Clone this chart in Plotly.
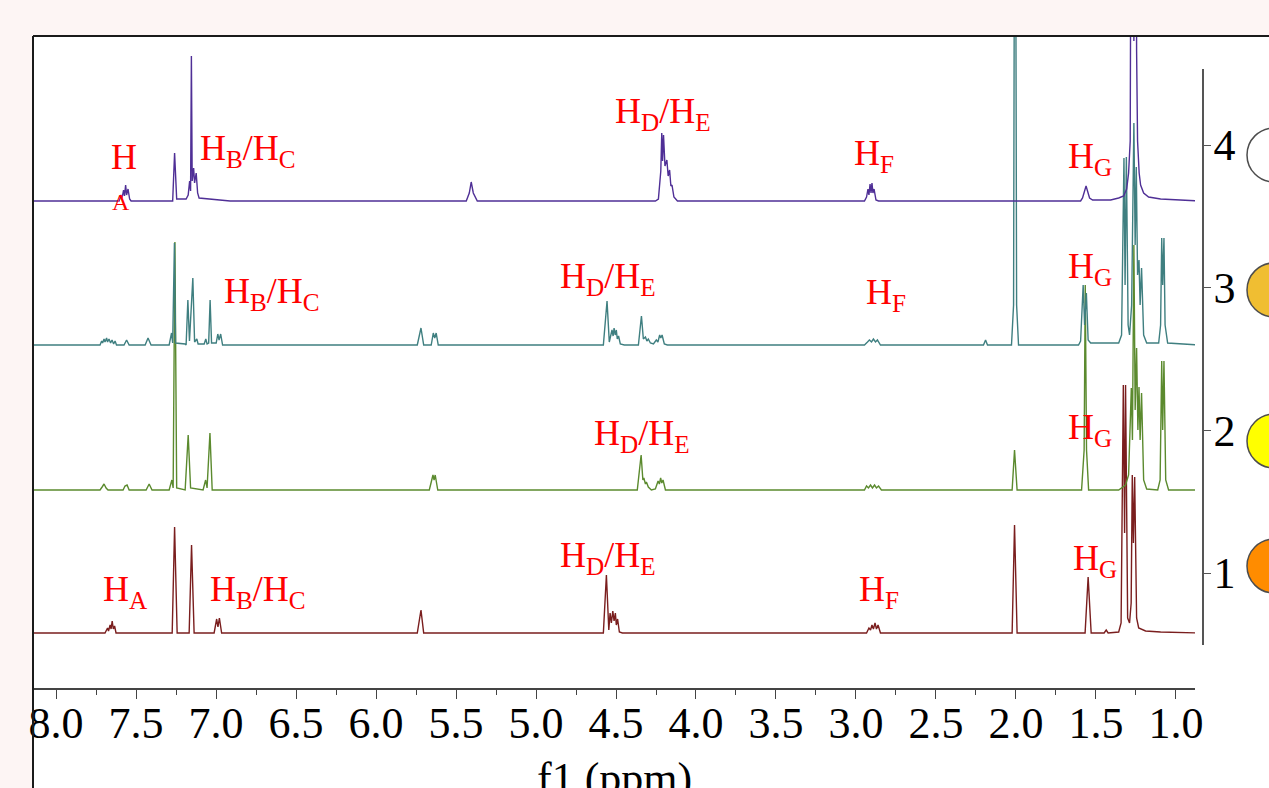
import plotly.graph_objects as go

# ---------------- data ----------------
# each spectrum: (chemical shift ppm, intensity a.u.) vertices
purple_points = [
    (8.20, 0), (7.606, 0), (7.594, 6), (7.587, 3), (7.578, 11), (7.572, 5), (7.565, 16), (7.559, 6),
    (7.550, 12), (7.540, 2), (7.531, 0), (7.271, 0), (7.259, 48), (7.246, 2), (7.187, 2), (7.174, 6),
    (7.165, 20), (7.159, 10), (7.154, 145), (7.149, 20), (7.140, 33), (7.134, 18), (7.124, 28), (7.115, 8),
    (7.106, 3), (6.912, 0), (5.436, 0), (5.417, 8), (5.405, 19), (5.392, 8), (5.367, 0), (4.254, 0),
    (4.235, 2), (4.220, 30), (4.214, 68), (4.209, 40), (4.203, 66), (4.194, 35), (4.182, 41), (4.174, 25),
    (4.165, 31), (4.157, 15), (4.150, 16), (4.138, 4), (4.116, 0), (2.947, 0), (2.934, 4), (2.925, 12),
    (2.919, 6), (2.912, 17), (2.906, 8), (2.900, 18), (2.894, 8), (2.887, 12), (2.875, 1), (2.859, 0),
    (1.596, 0), (1.584, 3), (1.562, 15), (1.540, 3), (1.521, 1), (1.408, 1), (1.358, 3), (1.327, 5),
    (1.308, 12), (1.296, 28), (1.286, 60), (1.280, 150), (1.274, 700), (1.263, 160), (1.252, 700),
    (1.246, 150), (1.240, 60), (1.230, 28), (1.221, 16), (1.202, 8), (1.171, 4), (1.096, 2), (0.85, 0),
]

teal_points = [
    (8.20, 0), (7.725, 0), (7.715, 4), (7.709, 2), (7.700, 6), (7.694, 3), (7.684, 7), (7.678, 3),
    (7.669, 6), (7.659, 2), (7.650, 5), (7.640, 1), (7.631, 4), (7.622, 0), (7.575, 0), (7.559, 5),
    (7.543, 0), (7.443, 0), (7.425, 7), (7.406, 0), (7.293, 0), (7.278, 12), (7.271, 2), (7.260, 102),
    (7.253, 2), (7.193, 1), (7.187, 0), (7.176, 45), (7.166, 4), (7.145, 67), (7.134, 3), (7.120, 6),
    (7.112, 1), (7.074, 1), (7.064, 6), (7.056, 1), (7.046, 2), (7.037, 45), (7.028, 2), (6.999, 2),
    (6.989, 11), (6.981, 5), (6.971, 11), (6.959, 0), (5.742, 0), (5.719, 17), (5.702, 0), (5.655, 0),
    (5.642, 12), (5.633, 7), (5.624, 12), (5.611, 0), (4.579, 0), (4.556, 44), (4.542, 3), (4.532, 10),
    (4.525, 15), (4.518, 9), (4.512, 17), (4.505, 10), (4.498, 15), (4.492, 6), (4.484, 9), (4.473, 1),
    (4.448, 0), (4.360, 0), (4.341, 29), (4.329, 6), (4.316, 8), (4.307, 4), (4.298, 6), (4.285, 2),
    (4.266, 1), (4.248, 5), (4.238, 3), (4.227, 10), (4.220, 7), (4.212, 10), (4.198, 1), (4.179, 0),
    (2.947, 0), (2.928, 3), (2.916, 5), (2.903, 3), (2.891, 6), (2.878, 3), (2.866, 5), (2.847, 0),
    (2.203, 0), (2.190, 5), (2.178, 0), (2.028, 0), (2.015, 40), (2.006, 700), (1.996, 40), (1.984, 0),
    (1.609, 0), (1.596, 4), (1.580, 60), (1.571, 20), (1.560, 52), (1.549, 5), (1.533, 2), (1.358, 2),
    (1.340, 10), (1.325, 187), (1.318, 60), (1.310, 188), (1.299, 20), (1.290, 10), (1.277, 40),
    (1.263, 222), (1.255, 100), (1.248, 178), (1.240, 70), (1.231, 85), (1.224, 40), (1.215, 77),
    (1.202, 10), (1.183, 2), (1.108, 2), (1.096, 20), (1.089, 107), (1.083, 60), (1.075, 107),
    (1.068, 20), (1.052, 2), (0.85, 0),
]

green_points = [
    (8.20, 0), (7.725, 0), (7.712, 3), (7.700, 6), (7.687, 2), (7.675, 0), (7.581, 0), (7.569, 4),
    (7.556, 5), (7.543, 0), (7.437, 0), (7.418, 6), (7.400, 0), (7.293, 0), (7.276, 10), (7.268, 2),
    (7.257, 248), (7.246, 2), (7.193, 0), (7.174, 55), (7.159, 2), (7.081, 0), (7.065, 10), (7.056, 2),
    (7.038, 57), (7.024, 0), (5.667, 0), (5.644, 15), (5.637, 10), (5.630, 15), (5.614, 0), (4.367, 0),
    (4.343, 35), (4.332, 10), (4.326, 12), (4.316, 6), (4.310, 8), (4.298, 3), (4.279, 0), (4.254, 1),
    (4.237, 9), (4.229, 6), (4.221, 12), (4.214, 7), (4.206, 10), (4.191, 0), (2.947, 0), (2.934, 4),
    (2.922, 2), (2.909, 5), (2.897, 2), (2.884, 5), (2.872, 2), (2.859, 4), (2.841, 0), (2.024, 0),
    (2.009, 40), (1.993, 0), (1.590, 0), (1.574, 40), (1.567, 205), (1.559, 40), (1.546, 0), (1.358, 0),
    (1.315, 5), (1.296, 15), (1.279, 102), (1.272, 50), (1.263, 245), (1.255, 80), (1.246, 142),
    (1.238, 60), (1.231, 103), (1.224, 50), (1.215, 97), (1.202, 10), (1.183, 1), (1.114, 0),
    (1.099, 10), (1.089, 129), (1.083, 60), (1.075, 129), (1.064, 10), (1.046, 0), (0.85, 0),
]

red_points = [
    (8.20, 0), (7.694, 0), (7.678, 5), (7.672, 2), (7.662, 8), (7.656, 4), (7.649, 12), (7.642, 4),
    (7.634, 7), (7.625, 0), (7.274, 0), (7.259, 106), (7.243, 0), (7.168, 0), (7.153, 88), (7.137, 0),
    (7.012, 0), (6.996, 14), (6.988, 6), (6.979, 15), (6.965, 0), (5.742, 0), (5.719, 23), (5.702, 0),
    (4.579, 0), (4.560, 58), (4.545, 3), (4.537, 20), (4.529, 10), (4.520, 22), (4.512, 12), (4.504, 20),
    (4.498, 8), (4.490, 14), (4.479, 1), (4.460, 0), (2.934, 0), (2.919, 5), (2.909, 3), (2.900, 8),
    (2.891, 4), (2.881, 10), (2.872, 4), (2.862, 8), (2.847, 0), (2.024, 0), (2.009, 108), (1.993, 0),
    (1.568, 0), (1.549, 56), (1.530, 0), (1.449, 0), (1.436, 3), (1.424, 0), (1.358, 1), (1.343, 10),
    (1.329, 248), (1.321, 100), (1.315, 248), (1.302, 15), (1.290, 10), (1.280, 30), (1.273, 158),
    (1.266, 90), (1.258, 156), (1.246, 15), (1.233, 5), (1.190, 2), (1.096, 1), (0.85, 0),
]

x_tick_labels = ["8.0", "7.5", "7.0", "6.5", "6.0", "5.5", "5.0", "4.5",
                 "4.0", "3.5", "3.0", "2.5", "2.0", "1.5", "1.0"]
x_tick_vals = [8.0, 7.5, 7.0, 6.5, 6.0, 5.5, 5.0, 4.5, 4.0, 3.5, 3.0, 2.5, 2.0, 1.5, 1.0]
x_title = "f1 (ppm)"

sample_ticks = [1, 2, 3, 4]
sample_marker_level = [1.049, 1.925, 2.984, 3.930]
sample_colors = ["#ff8c00", "#ffff00", "#f0be32", "#ffffff"]

# peak labels: text, ppm (left edge), height level (same units as spectra axis)
label_texts = ["H", "A", "H<sub>B</sub>/H<sub>C</sub>", "H<sub>D</sub>/H<sub>E</sub>", "H<sub>F</sub>", "H<sub>G</sub>",
               "H<sub>B</sub>/H<sub>C</sub>", "H<sub>D</sub>/H<sub>E</sub>", "H<sub>F</sub>", "H<sub>G</sub>",
               "H<sub>D</sub>/H<sub>E</sub>", "H<sub>G</sub>",
               "H<sub>A</sub>", "H<sub>B</sub>/H<sub>C</sub>", "H<sub>D</sub>/H<sub>E</sub>", "H<sub>F</sub>", "H<sub>G</sub>"]
label_ppm = [7.669, 7.662, 7.112, 4.517, 3.022, 1.690,
             6.962, 4.861, 2.953, 1.690,
             4.648, 1.690,
             7.719, 7.049, 4.861, 2.991, 1.659]
label_level = [531, 486, 538, 575, 533, 530,
               395, 410, 394, 420,
               253, 259,
               97, 97, 131, 97, 128]
label_sizes = [36, 24, 36, 36, 36, 36, 36, 36, 36, 36, 36, 36, 36, 36, 36, 36, 36]

# ---------------- layout constants ----------------
W, H = 1269, 788
ML, MT, MB = 33, 36, 100
PW = W - ML
PH = H - MT - MB
X_END = 1162 / PW
SERIF = "Liberation Serif, Times New Roman, serif"
Y2_PX_PER_UNIT = 142.67
CIRCLE_R = 27  # px

spectra = [
    (red_points, "#7a1e1e", 55),
    (green_points, "#5b8a2e", 198),
    (teal_points, "#3f7f80", 343),
    (purple_points, "#4f2f96", 487),
]

fig = go.Figure()
for pts, color, offset in spectra:
    xs = [p[0] for p in pts]
    ys = [offset + p[1] for p in pts]
    fig.add_trace(go.Scatter(x=xs, y=ys, mode="lines", line=dict(color=color, width=1.4),
                             hoverinfo="skip", showlegend=False, xaxis="x", yaxis="y"))

# invisible trace to register the right-hand sample axis
fig.add_trace(go.Scatter(x=[0.5] * len(sample_ticks), y=sample_ticks, mode="markers",
                         marker=dict(size=1, opacity=0), xaxis="x2", yaxis="y2",
                         hoverinfo="skip", showlegend=False))

annotations = []
for t, px, lv, fs in zip(label_texts, label_ppm, label_level, label_sizes):
    annotations.append(dict(text=t, x=px, y=lv, xref="x", yref="y", xanchor="left", yanchor="middle",
                            showarrow=False, font=dict(family=SERIF, size=fs, color="#ff0000")))
annotations.append(dict(text=x_title, x=X_END / 2, y=(688 - 752) / PH, xref="paper", yref="paper",
                        xanchor="center", yanchor="top", showarrow=False,
                        font=dict(family=SERIF, size=44, color="#000000")))

shapes = [
    dict(type="rect", xref="paper", yref="paper", x0=0, x1=1.05, y0=-0.2, y1=1,
         fillcolor="#ffffff", line=dict(width=0), layer="below"),
    dict(type="line", xref="paper", yref="paper", x0=0, x1=1.05, y0=1, y1=1,
         line=dict(color="#1a1a1a", width=2)),
    dict(type="line", xref="paper", yref="paper", x0=0, x1=0, y0=-0.2, y1=1,
         line=dict(color="#1a1a1a", width=2)),
]
cx0 = (1247 - ML) / PW
cx1 = (1247 + 2 * CIRCLE_R - ML) / PW
r_units = CIRCLE_R / Y2_PX_PER_UNIT
for lvl, col in zip(sample_marker_level, sample_colors):
    shapes.append(dict(type="circle", xref="paper", yref="y2", x0=cx0, x1=cx1,
                       y0=lvl - r_units, y1=lvl + r_units, fillcolor=col,
                       line=dict(color="#4d4d4d", width=1.5), layer="above"))

fig.update_layout(
    width=W, height=H, autosize=False,
    margin=dict(l=ML, r=0, t=MT, b=MB, pad=0, autoexpand=False),
    paper_bgcolor="#fdf5f4", plot_bgcolor="rgba(0,0,0,0)",
    font=dict(family=SERIF, color="#000000"),
    xaxis=dict(domain=[0, X_END], range=[8.144, 0.881], anchor="y", automargin=False,
               showline=True, linecolor="#444444", linewidth=1.5, mirror=False,
               ticks="outside", ticklen=9, tickwidth=1.2, tickcolor="#444444",
               tickvals=x_tick_vals, ticktext=x_tick_labels, ticklabelstandoff=-14,
               tickfont=dict(family=SERIF, size=44, color="#000000"),
               minor=dict(ticks="outside", ticklen=5, tickwidth=1.2, tickcolor="#444444", dtick=0.25, tick0=0.75),
               showgrid=False, zeroline=False),
    yaxis=dict(domain=[0, 1], range=[0, PH], visible=False, fixedrange=True, automargin=False),
    xaxis2=dict(domain=[X_END, 1], range=[0, 1], visible=False, anchor="y2", fixedrange=True, automargin=False),
    yaxis2=dict(domain=[43 / PH, 619 / PH], range=[0.4953, 4.5327], anchor="free", automargin=False,
                position=(1203 - ML) / PW, side="right",
                showline=True, linecolor="#555555", linewidth=1.5,
                ticks="outside", ticklen=7, tickwidth=1.2, tickcolor="#555555",
                tickvals=sample_ticks, ticklabelstandoff=-6,
                tickfont=dict(family=SERIF, size=44, color="#000000"),
                showgrid=False, zeroline=False, fixedrange=True),
    annotations=annotations,
    shapes=shapes,
)

fig.write_html("out.html")
